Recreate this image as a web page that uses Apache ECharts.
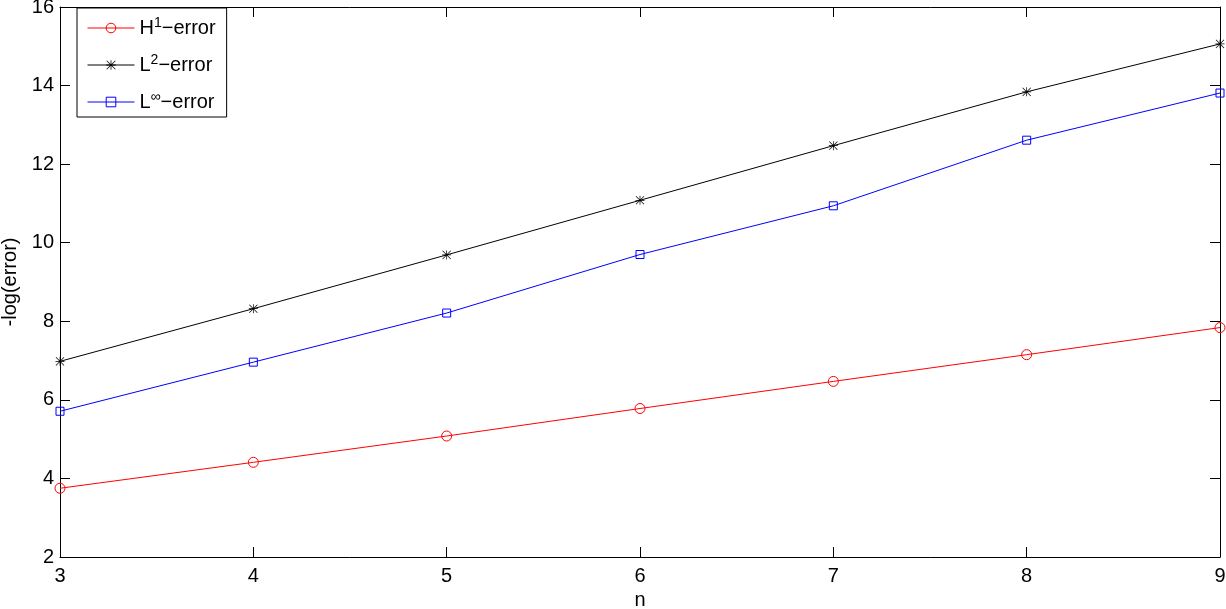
<!DOCTYPE html>
<html>
<head>
<meta charset="utf-8">
<script src="https://cdn.jsdelivr.net/npm/echarts@6/dist/echarts.min.js"></script>
<style>
  html, body { margin: 0; padding: 0; background: #fff; }
  #main { width: 1226px; height: 609px; }
</style>
</head>
<body>
<div id="main"></div>
<script>
var chartDom = document.getElementById('main');
var myChart = echarts.init(chartDom);
var option;

// x values (n)
const nValues = [3, 4, 5, 6, 7, 8, 9];
// -log(error) values
const h1Error = [3.75, 4.41, 5.08, 5.78, 6.47, 7.15, 7.84];
const l2Error = [6.98, 8.32, 9.69, 11.08, 12.47, 13.84, 15.06];
const lInfError = [5.71, 6.96, 8.21, 9.70, 10.94, 12.61, 13.81];

const seriesNames = ['H1-error', 'L2-error', 'Linf-error'];
// legend labels with superscripts
const legendLabels = {
  'H1-error': '{b|H}{s|1}{b|\u2212error}',
  'L2-error': '{b|L}{s|2}{b|\u2212error}',
  'Linf-error': '{b|L}{s|\u221e}{b|\u2212error}'
};

const fontFamily = '"Liberation Sans", Arial, Helvetica, sans-serif';

// asterisk marker made of thin bars (all clockwise so they fill together)
const starPath = 'path://M9.2,0 H10.8 V20 H9.2 Z M0,9.2 H20 V10.8 H0 Z ' +
  'M1.5,0.4 L19.6,18.5 L18.5,19.6 L0.4,1.5 Z ' +
  'M18.5,0.4 L19.6,1.5 L1.5,19.6 L0.4,18.5 Z';

function pairs(ys) {
  return nValues.map(function (x, i) { return [x, ys[i]]; });
}

const axisCommon = {
  axisLine: { show: true, lineStyle: { color: '#000', width: 1 } },
  axisTick: { show: true, inside: true, length: 10, lineStyle: { color: '#000', width: 1 } },
  splitLine: { show: false }
};

option = {
  animation: false,
  backgroundColor: '#fff',
  grid: { left: 60, right: 6, top: 7, bottom: 52, containLabel: false, outerBoundsMode: 'none' },
  legend: {
    left: 77,
    top: 8,
    orient: 'vertical',
    data: seriesNames,
    backgroundColor: '#fff',
    borderColor: '#000',
    borderWidth: 1,
    padding: [8, 11, 5, 10],
    itemWidth: 47,
    itemHeight: 12,
    itemGap: 15,
    lineStyle: { width: 1 },
    itemStyle: { borderWidth: 1 },
    formatter: function (name) { return legendLabels[name]; },
    textStyle: {
      color: '#000',
      fontFamily: fontFamily,
      rich: {
        b: { fontSize: 20, fontFamily: fontFamily, color: '#000', lineHeight: 24 },
        s: { fontSize: 14, fontFamily: fontFamily, color: '#000', verticalAlign: 'top', lineHeight: 24 }
      }
    }
  },
  xAxis: [
    Object.assign({}, axisCommon, {
      type: 'value',
      min: 3, max: 9, interval: 1,
      name: 'n',
      nameLocation: 'middle',
      nameGap: 33,
      nameTextStyle: { color: '#000', fontSize: 20, fontFamily: fontFamily },
      axisLabel: { color: '#000', fontSize: 20, fontFamily: fontFamily, margin: 9 }
    }),
    Object.assign({}, axisCommon, {
      type: 'value', position: 'top',
      min: 3, max: 9, interval: 1,
      axisLabel: { show: false }
    })
  ],
  yAxis: [
    Object.assign({}, axisCommon, {
      type: 'value',
      min: 2, max: 16, interval: 2,
      name: '-log(error)',
      nameLocation: 'middle',
      nameGap: 37,
      nameTextStyle: { color: '#000', fontSize: 20, fontFamily: fontFamily },
      axisLabel: { color: '#000', fontSize: 20, fontFamily: fontFamily, margin: 6 }
    }),
    Object.assign({}, axisCommon, {
      type: 'value', position: 'right',
      min: 2, max: 16, interval: 2,
      axisLabel: { show: false }
    })
  ],
  series: [
    {
      name: 'H1-error',
      type: 'line',
      data: pairs(h1Error),
      symbol: 'circle',
      symbolSize: 10,
      lineStyle: { color: '#ff0000', width: 1 },
      itemStyle: { color: 'transparent', borderColor: '#ff0000', borderWidth: 1 }
    },
    {
      name: 'L2-error',
      type: 'line',
      data: pairs(l2Error),
      symbol: starPath,
      symbolSize: 9,
      lineStyle: { color: '#000', width: 1 },
      itemStyle: { color: '#000' }
    },
    {
      name: 'Linf-error',
      type: 'line',
      data: pairs(lInfError),
      symbol: 'rect',
      symbolSize: 8,
      lineStyle: { color: '#0000ff', width: 1 },
      itemStyle: { color: 'transparent', borderColor: '#0000ff', borderWidth: 1 }
    }
  ]
};

option && myChart.setOption(option);
</script>
</body>
</html>
